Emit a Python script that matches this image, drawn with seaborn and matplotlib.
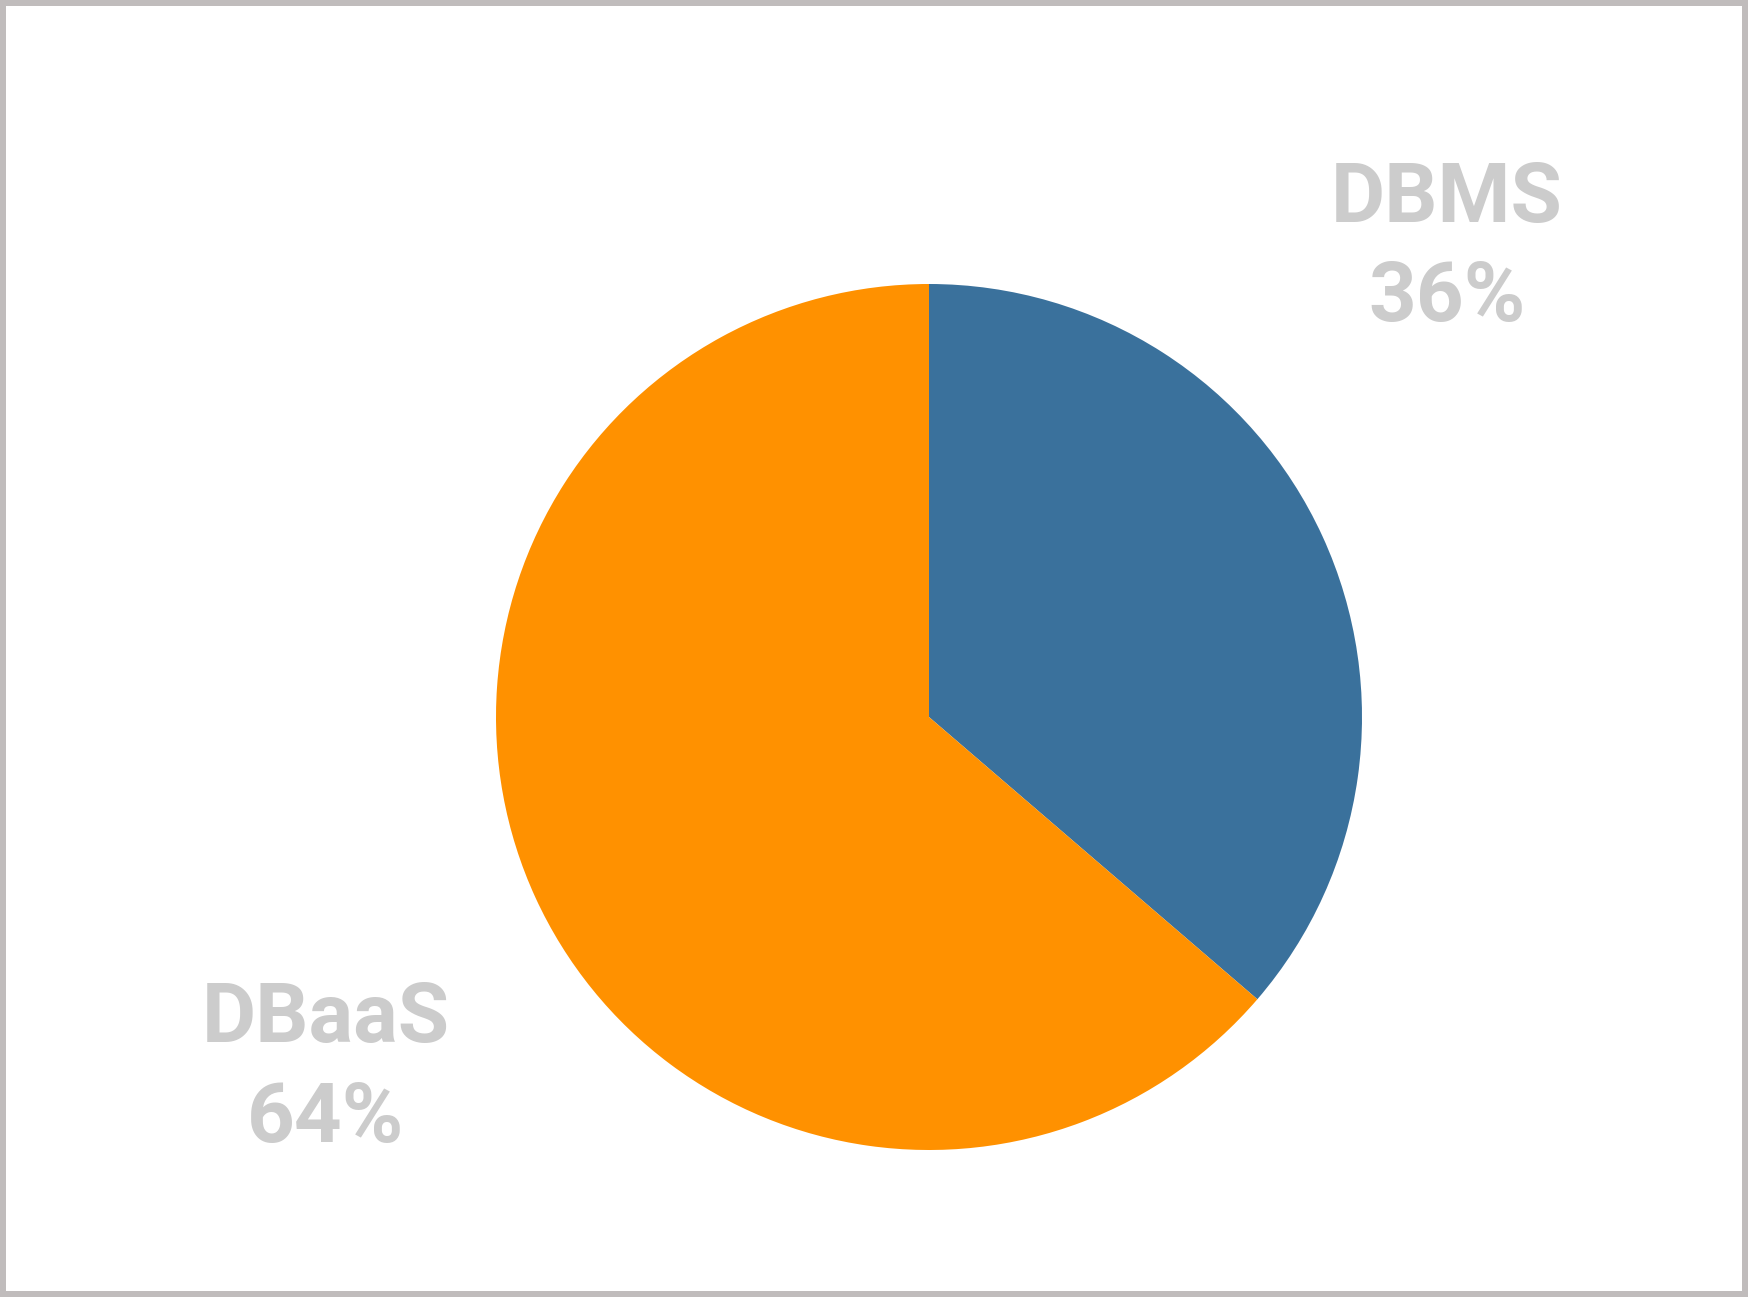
import matplotlib
matplotlib.use("Agg")
import matplotlib.pyplot as plt
from matplotlib.patches import Rectangle
import seaborn as sns

# data
labels = ["DBMS", "DBaaS"]
shares = [36.3, 63.7]
colors = ["#3a719c", "#ff9100"]

sns.set_theme(style="white")
plt.rcParams['font.family'] = ['Roboto', 'DejaVu Sans']

W, H, DPI = 1748, 1297, 100
fig = plt.figure(figsize=(W / DPI, H / DPI), dpi=DPI)
fig.patch.set_facecolor("white")

# pie centre / radius in pixels
cx, cy, r = 929, 717, 433
ax = fig.add_axes([0, 0, 1, 1])
ax.pie(shares, colors=colors, startangle=90, counterclock=False,
       radius=1, wedgeprops={'linewidth': 0})
ax.set_xlim(-cx / r, (W - cx) / r)
ax.set_ylim(-(H - cy) / r, cy / r)
ax.set_aspect('equal')
ax.axis('off')

# label positions (data units, baseline)
label_pos = [(1.196, 1.143, 0.915), (-1.393, -0.751, -0.982)]
for lab, val, (x, y1, y2) in zip(labels, shares, label_pos):
    ax.text(x, y1, lab, ha='center', va='baseline', fontsize=60,
            fontweight='bold', color='#cccccc')
    ax.text(x, y2, f"{round(val)}%", ha='center', va='baseline', fontsize=60,
            fontweight='bold', color='#cccccc')

# grey frame
bw = 6 / W
bh = 6 / H
fig.add_artist(Rectangle((bw / 2, bh / 2), 1 - bw, 1 - bh,
                         transform=fig.transFigure, fill=False,
                         edgecolor='#c0bcbc', linewidth=6 * 72 / DPI))

fig.savefig("out.png", dpi=DPI)
